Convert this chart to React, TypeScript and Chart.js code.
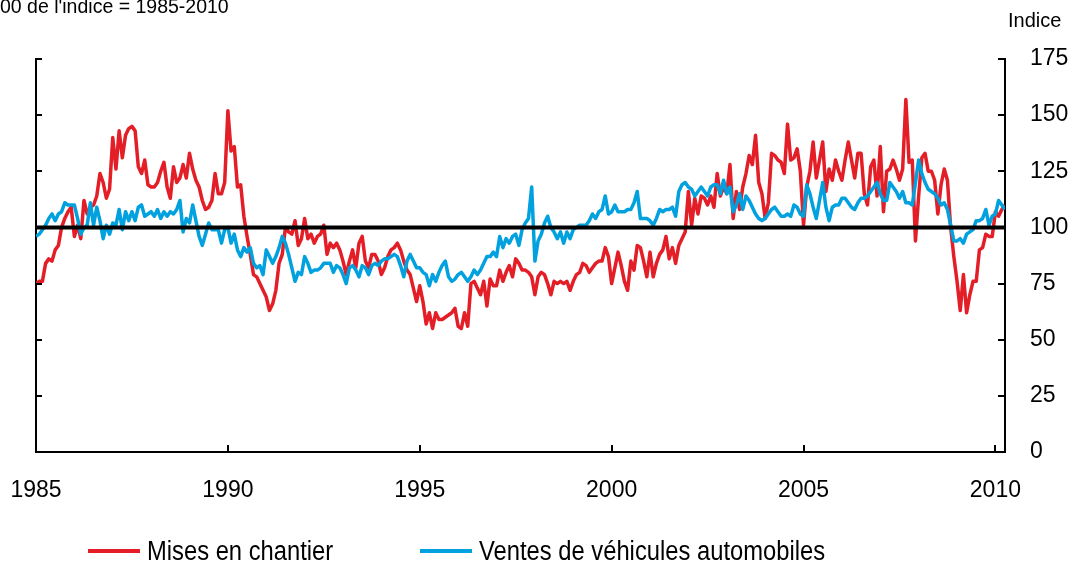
import React, { useEffect, useRef } from 'react';
import { Chart, registerables } from 'chart.js';

Chart.register(...registerables);

// ---- data ----
const START_YEAR = 1985;
const END_X = 2010.25;
const YEAR_TICKS = [1985, 1990, 1995, 2000, 2005, 2010];
const VALUE_TICKS = [0, 25, 50, 75, 100, 125, 150, 175];
const REFERENCE_LEVEL = 100;
const SERIES_NAMES = ['Mises en chantier', 'Ventes de véhicules automobiles'];
const UNIT_LABEL = 'Indice';
const NOTE = "Base 100 de l'indice = 1985-2010";
const NOTE_HIDDEN_PREFIX = 'Base 1';

// Mises en chantier, monthly, Jan 1985 - Apr 2010
const housingStarts = [
  75, 76, 76, 84, 86, 85, 90, 92, 100, 104, 107, 109,
  96, 101, 95, 112, 106, 109, 110, 114, 124, 120, 113, 117,
  140, 126, 143, 131, 141, 144, 145, 143, 127, 124, 130, 119,
  118, 118, 120, 125, 129, 118, 113, 127, 120, 122, 128, 122,
  133, 126, 121, 118, 112, 108, 109, 112, 124, 115, 115, 120,
  152, 134, 136, 118, 119, 105, 96, 88, 79, 78, 75, 72,
  69, 63, 66, 72, 84, 88, 100, 98, 97, 103, 92, 95,
  104, 95, 97, 93, 96, 97, 101, 88, 93, 91, 93, 90,
  85, 79, 85, 90, 82, 93, 96, 85, 82, 88, 88, 85,
  79, 82, 87, 90, 91, 93, 90, 85, 81, 79, 73, 67,
  74, 67, 57, 62, 55, 62, 59, 59, 60, 61, 62, 64,
  56, 55, 62, 56, 75, 76, 73, 70, 76, 65, 77, 74,
  74, 81, 76, 80, 83, 78, 86, 84, 81, 81, 80, 78,
  70, 78, 80, 79, 75, 70, 76, 75, 76, 75, 76, 72,
  76, 79, 80, 84, 83, 80, 82, 84, 85, 85, 91, 87,
  75, 82, 89, 83, 76, 72, 85, 81, 92, 91, 85, 78,
  89, 78, 84, 88, 90, 96, 86, 91, 84, 92, 95, 98,
  116, 101, 113, 106, 114, 113, 110, 114, 109, 124, 114, 118,
  115, 128, 104, 116, 108, 118, 124, 132, 128, 141, 120, 115,
  104, 111, 133, 132, 130, 129, 124, 146, 130, 131, 135, 125,
  101, 118, 125, 138, 122, 130, 138, 116, 126, 121, 130, 125,
  121, 130, 138, 130, 122, 133, 133, 115, 110, 127, 130, 114,
  136, 107, 125, 126, 130, 126, 121, 126, 157, 129, 130, 94,
  114, 131, 133, 125, 125, 121, 106, 119, 126, 121, 100, 87,
  76, 63, 79, 62, 70, 76, 76, 90, 91, 97, 96, 96,
  107, 105, 108, 110,
];

// Ventes de véhicules automobiles, monthly, Jan 1985 - Apr 2010
const vehicleSales = [
  96, 97, 99, 101, 104, 106, 103, 106, 107, 111, 110, 110,
  110, 104, 97, 100, 101, 111, 101, 109, 103, 95, 101, 97,
  102, 101, 108, 99, 107, 103, 107, 103, 109, 110, 105, 106,
  107, 105, 108, 104, 107, 105, 107, 106, 108, 112, 98, 104,
  102, 110, 103, 96, 92, 97, 102, 99, 99, 99, 93, 99,
  100, 93, 97, 90, 87, 91, 89, 91, 84, 82, 83, 79,
  90, 87, 84, 87, 91, 96, 93, 88, 82, 76, 80, 79,
  87, 84, 80, 81, 81, 82, 84, 84, 84, 80, 83, 82,
  79, 75, 82, 83, 81, 78, 83, 82, 79, 83, 84, 83,
  85, 86, 86, 87, 88, 87, 83, 78, 85, 88, 85, 82,
  82, 80, 79, 74, 79, 76, 80, 83, 85, 78, 76, 77,
  79, 80, 78, 76, 78, 81, 79, 81, 84, 87, 87, 89,
  87, 96, 91, 95, 93, 96, 97, 92, 99, 102, 104, 118,
  85, 94, 97, 102, 105, 100, 98, 95, 98, 93, 98, 95,
  99, 100, 101, 101, 101, 103, 106, 104, 107, 108, 114, 106,
  107, 110, 107, 107, 107, 108, 108, 111, 116, 104, 104, 104,
  103, 101, 104, 108, 107, 108, 108, 109, 105, 116, 119, 120,
  118, 117, 114, 116, 118, 116, 114, 118, 119, 119, 115, 121,
  115, 118, 107, 110, 115, 108, 114, 112, 109, 106, 104, 103,
  104, 106, 108, 109, 107, 105, 105, 106, 105, 110, 109, 106,
  105, 119, 115, 109, 104, 112, 120, 109, 103, 109, 110, 110,
  113, 113, 111, 109, 108, 111, 113, 113, 114, 116, 118, 120,
  115, 112, 112, 120, 118, 116, 113, 116, 111, 111, 110, 120,
  130, 124, 120, 117, 116, 115, 113, 110, 111, 108, 101, 94,
  94, 95, 93, 97, 98, 99, 103, 103, 104, 108, 101, 105,
  106, 112, 110, 108,
];

// ---- styles ----
const FONT = "'Liberation Sans', Arial, 'Noto Sans', sans-serif";
const RED = '#E31E26';
const BLUE = '#00A1DE';
const COLORS = [RED, BLUE];

const toPoints = (arr: number[]) => arr.map((v, i) => ({ x: START_YEAR + i / 12, y: v }));

const innerTicksPlugin = {
  id: 'innerTicks',
  afterDraw(chart: any) {
    const { ctx, chartArea: a, scales } = chart;
    ctx.save();
    ctx.strokeStyle = '#000';
    ctx.lineWidth = 2;
    const seg = (x1: number, y1: number, x2: number, y2: number) => {
      ctx.beginPath();
      ctx.moveTo(x1, y1);
      ctx.lineTo(x2, y2);
      ctx.stroke();
    };
    scales.y.ticks.forEach((t: any) => {
      const py = Math.round(scales.y.getPixelForValue(t.value));
      seg(a.right - 7, py, a.right, py);
      seg(a.left, py, a.left + 6, py);
    });
    scales.x.ticks.forEach((t: any) => {
      const px = Math.round(scales.x.getPixelForValue(t.value));
      seg(px, a.bottom, px, a.bottom - 7);
    });
    ctx.restore();
  },
};

const textPlugin = {
  id: 'extraText',
  afterDraw(chart: any) {
    const { ctx, chartArea: a } = chart;
    ctx.save();
    ctx.fillStyle = '#000';
    ctx.textAlign = 'left';
    ctx.textBaseline = 'alphabetic';
    ctx.font = `20px ${FONT}`;
    ctx.fillText(UNIT_LABEL, a.right + 3, 27);
    ctx.font = `19.5px ${FONT}`;
    const hidden = ctx.measureText(NOTE_HIDDEN_PREFIX).width;
    ctx.fillText(NOTE, -hidden, 13);
    ctx.restore();
  },
};

export default function App() {
  const canvasRef = useRef<HTMLCanvasElement | null>(null);

  useEffect(() => {
    if (!canvasRef.current) return;
    const chart = new Chart(canvasRef.current, {
      type: 'line',
      data: {
        datasets: [
          {
            label: SERIES_NAMES[0],
            data: toPoints(housingStarts),
            borderColor: RED,
            backgroundColor: RED,
            borderWidth: 3.5,
            pointRadius: 0,
            tension: 0,
            borderJoinStyle: 'round',
            order: 2,
            xAxisID: 'x',
            yAxisID: 'y',
          },
          {
            label: SERIES_NAMES[1],
            data: toPoints(vehicleSales),
            borderColor: BLUE,
            backgroundColor: BLUE,
            borderWidth: 3.5,
            pointRadius: 0,
            tension: 0,
            borderJoinStyle: 'round',
            order: 1,
            xAxisID: 'x',
            yAxisID: 'y',
          },
          {
            label: 'ref',
            data: [
              { x: START_YEAR, y: REFERENCE_LEVEL },
              { x: END_X, y: REFERENCE_LEVEL },
            ],
            borderColor: '#000',
            backgroundColor: '#000',
            borderWidth: 4,
            pointRadius: 0,
            order: 0,
            xAxisID: 'x',
            yAxisID: 'y',
          },
        ],
      } as any,
      options: {
        animation: false,
        responsive: false,
        maintainAspectRatio: false,
        events: [],
        layout: { padding: { left: 36, top: 59, right: 0, bottom: 0 } },
        plugins: { legend: { display: false }, tooltip: { enabled: false } },
        scales: {
          x: {
            type: 'linear',
            position: 'bottom',
            min: START_YEAR,
            max: END_X,
            afterBuildTicks: (s: any) => {
              s.ticks = YEAR_TICKS.map((v) => ({ value: v }));
            },
            afterFit: (s: any) => {
              s.height = 112;
              s.paddingLeft = 0;
              s.paddingRight = 0;
            },
            grid: { display: false, drawTicks: false },
            border: { display: true, color: '#000', width: 2 },
            ticks: {
              padding: 25,
              color: '#000',
              font: { family: FONT, size: 23 },
              maxRotation: 0,
              autoSkip: false,
              callback: (v: any) => String(v),
            },
          },
          y: {
            type: 'linear',
            position: 'right',
            min: 0,
            max: 175,
            afterBuildTicks: (s: any) => {
              s.ticks = VALUE_TICKS.map((v) => ({ value: v }));
            },
            afterFit: (s: any) => {
              s.width = 71;
              s.paddingTop = 0;
              s.paddingBottom = 0;
            },
            grid: { display: false, drawTicks: false },
            border: { display: true, color: '#000', width: 2 },
            ticks: {
              padding: 25,
              color: '#000',
              font: { family: FONT, size: 23 },
              callback: (v: any) => String(v),
            },
          },
          yL: {
            type: 'linear',
            position: 'left',
            min: 0,
            max: 175,
            afterFit: (s: any) => {
              s.width = 0;
              s.paddingTop = 0;
              s.paddingBottom = 0;
            },
            grid: { display: false, drawTicks: false },
            border: { display: true, color: '#000', width: 2 },
            ticks: { display: false },
          },
        },
      } as any,
      plugins: [innerTicksPlugin, textPlugin],
    });
    return () => chart.destroy();
  }, []);

  const legendItem = (i: number, left: number) => (
    <div
      key={i}
      style={{
        position: 'absolute',
        left,
        top: 534,
        height: 34,
        display: 'flex',
        alignItems: 'center',
        whiteSpace: 'nowrap',
      }}
    >
      <span style={{ display: 'inline-block', width: 52, height: 4, background: COLORS[i], marginRight: 7 }} />
      <span
        style={{
          display: 'inline-block',
          font: `27px ${FONT}`,
          color: '#000',
          lineHeight: '34px',
          transform: 'scaleX(0.88)',
          transformOrigin: 'left center',
        }}
      >
        {SERIES_NAMES[i]}
      </span>
    </div>
  );

  return (
    <div style={{ position: 'absolute', left: 0, top: 0, width: 1076, height: 564, overflow: 'hidden', background: '#fff' }}>
      <canvas ref={canvasRef} width={1076} height={564} style={{ position: 'absolute', left: 0, top: 0, width: 1076, height: 564 }} />
      {legendItem(0, 88)}
      {legendItem(1, 420)}
    </div>
  );
}
